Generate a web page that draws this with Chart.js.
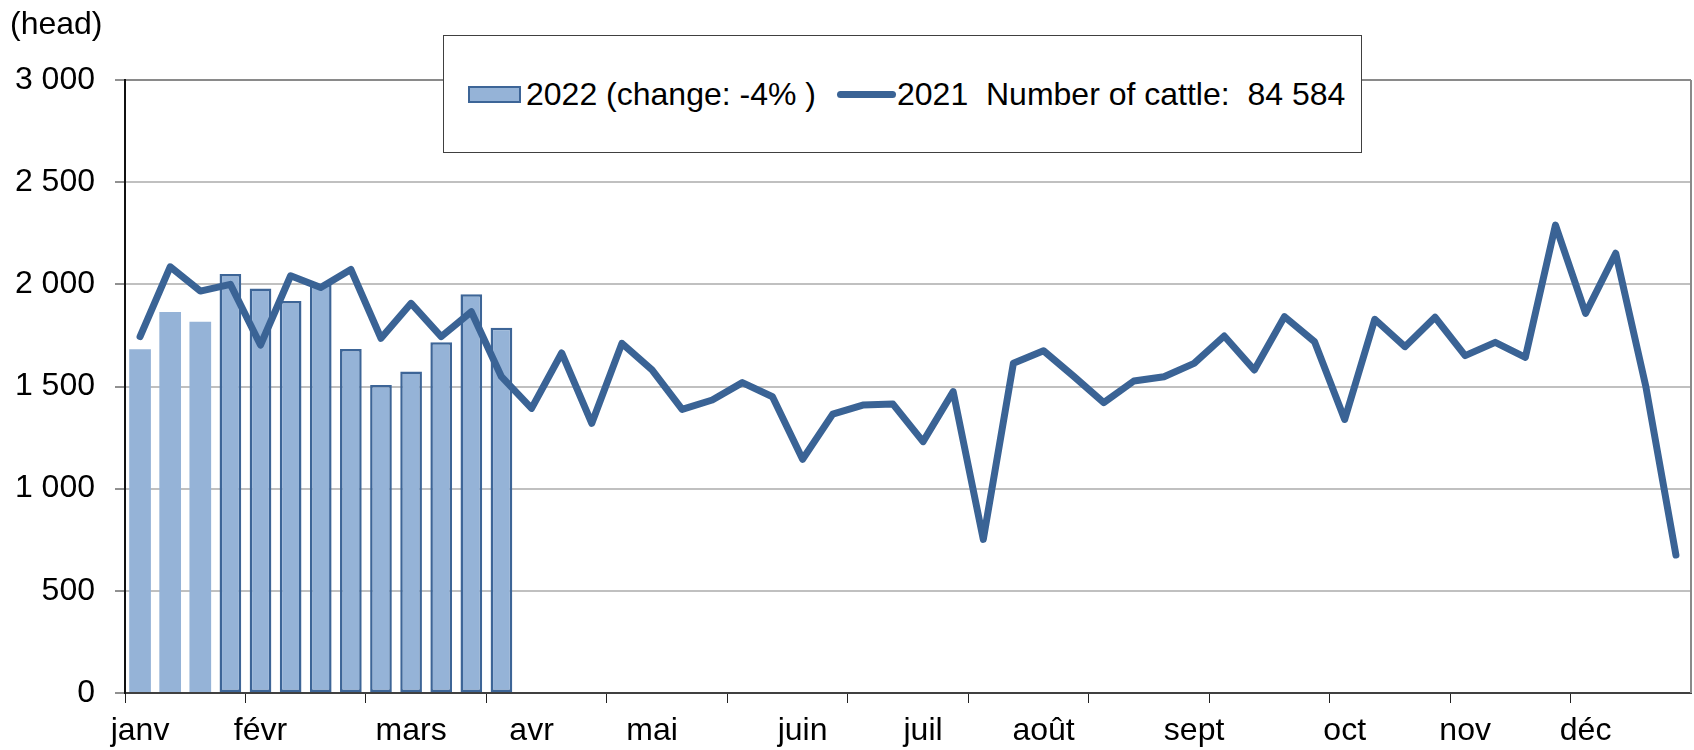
<!DOCTYPE html>
<html>
<head>
<meta charset="utf-8">
<title>Number of cattle</title>
<script src="https://cdn.jsdelivr.net/npm/chart.js@4.4.1/dist/chart.umd.min.js"></script>
<style>
    body { margin: 0; background: #fff; }
    #wrap { position: relative; width: 1694px; height: 750px; font-family: "Liberation Sans", Arial, sans-serif; color: #000; }
    #unit { position: absolute; left: 10px; top: 7px; font-size: 32px; line-height: 32px; }
    #legend { position: absolute; left: 443px; top: 35px; width: 917px; height: 116px; border: 1px solid #404040; background: #fff; }
    #legend .txt { position: absolute; top: 42px; font-size: 32px; line-height: 32px; white-space: pre; }
    #legend .swBar { position: absolute; left: 24px; top: 50px; width: 49px; height: 13px; background: #95b3d7; border: 2px solid #3d6597; }
    #legend .swLine { position: absolute; left: 393px; top: 55px; width: 59px; height: 7px; border-radius: 4px; background: #3a6395; }
</style>
</head>
<body>
<div id="wrap">
    <canvas id="cattleChart" width="1694" height="750"></canvas>
    <div id="unit">(head)</div>
    <div id="legend"></div>
</div>
<script>
// month labels and the week they sit on
const monthNames = ['janv', 'févr', 'mars', 'avr', 'mai', 'juin', 'juil', 'août', 'sept', 'oct', 'nov', 'déc'];
const monthWeeks = [0, 4, 9, 13, 17, 22, 26, 30, 35, 40, 44, 48];

// weekly slaughter, 2021 (full year)
const cattle2021 = [
    1744, 2086, 1967, 2000, 1703, 2042, 1985, 2073, 1736, 1907, 1744, 1866, 1548,
    1393, 1664, 1320, 1711, 1581, 1388, 1434, 1519, 1450, 1144, 1365, 1409, 1414,
    1230, 1475, 752, 1614, 1675, 1550, 1421, 1527, 1548, 1613, 1747, 1581, 1842,
    1719, 1339, 1829, 1695, 1839, 1651, 1716, 1643, 2290, 1858, 2152, 1500, 675
];

// weekly slaughter, 2022 (so far)
const cattle2022 = [1682, 1865, 1817, 2051, 1979, 1918, 2000, 1684, 1507, 1573, 1716, 1951, 1788];

const label2022 = '2022 (change: -4% )';
const label2021 = '2021  Number of cattle:  84 584';
const yTicks = [0, 500, 1000, 1500, 2000, 2500, 3000];

const weekLabels = cattle2021.map((_, i) => {
    const m = monthWeeks.indexOf(i);
    return m >= 0 ? monthNames[m] : '';
});

const formatThousands = v => String(v).replace(/\B(?=(\d{3})+(?!\d))/g, ' ');

// right-hand frame of the plot area
const frameRight = {
    id: 'frameRight',
    beforeDatasetsDraw(chart) {
        const { ctx, chartArea } = chart;
        ctx.save();
        ctx.strokeStyle = '#8a8a8a';
        ctx.lineWidth = 2;
        ctx.beginPath();
        ctx.moveTo(chartArea.right, chartArea.top);
        ctx.lineTo(chartArea.right, chartArea.bottom);
        ctx.stroke();
        ctx.restore();
    }
};

const font = { family: '"Liberation Sans", Arial, sans-serif', size: 32 };

const chart = new Chart(document.getElementById('cattleChart'), {
    type: 'bar',
    data: {
        labels: weekLabels,
        datasets: [
            {
                type: 'bar',
                label: label2022,
                data: cattle2022,
                backgroundColor: '#95b3d7',
                borderColor: '#3d6597',
                borderWidth: cattle2022.map((_, i) => i < 3 ? 0 : 2.5),
                borderSkipped: false,
                barPercentage: 0.72,
                categoryPercentage: 1,
                order: 2
            },
            {
                type: 'line',
                label: label2021,
                data: cattle2021,
                borderColor: '#3a6395',
                borderWidth: 7,
                borderCapStyle: 'round',
                borderJoinStyle: 'round',
                pointRadius: 0,
                tension: 0,
                fill: false,
                order: 1
            }
        ]
    },
    options: {
        responsive: false,
        animation: false,
        layout: { padding: { top: 80, right: 3, left: 0, bottom: 0 } },
        scales: {
            x: {
                offset: true,
                grid: {
                    offset: true,
                    drawOnChartArea: false,
                    drawTicks: true,
                    tickLength: 10,
                    tickWidth: 1,
                    tickColor: ctx => ctx.index % 4 === 0 ? '#222' : 'rgba(0,0,0,0)'
                },
                border: { color: '#404040', width: 2 },
                ticks: {
                    autoSkip: false,
                    maxRotation: 0,
                    padding: 9,
                    color: '#000',
                    font: font
                },
                afterFit(scale) { scale.height = 57; }
            },
            y: {
                min: 0,
                max: 3000,
                afterBuildTicks(scale) { scale.ticks = yTicks.map(v => ({ value: v })); },
                grid: {
                    color: ctx => ctx.tick && ctx.tick.value === 3000 ? '#8a8a8a' : '#c0c0c0',
                    lineWidth: 2,
                    tickLength: 10,
                    tickColor: '#222',
                    tickWidth: 1
                },
                border: { color: '#111', width: 2 },
                ticks: {
                    padding: 20,
                    color: '#000',
                    font: font,
                    callback: v => formatThousands(v)
                },
                afterFit(scale) { scale.width = 125; }
            }
        },
        plugins: {
            legend: { display: false },
            tooltip: { enabled: false }
        }
    },
    plugins: [frameRight]
});

// legend box, built from the datasets
const legend = document.getElementById('legend');
const ds = chart.data.datasets;
legend.innerHTML =
    '<div class="swBar"></div><div class="txt" style="left:82px"></div>' +
    '<div class="swLine"></div><div class="txt" style="left:453px"></div>';
const txts = legend.querySelectorAll('.txt');
txts[0].textContent = ds[0].label;
txts[1].textContent = ds[1].label;
</script>
</body>
</html>
